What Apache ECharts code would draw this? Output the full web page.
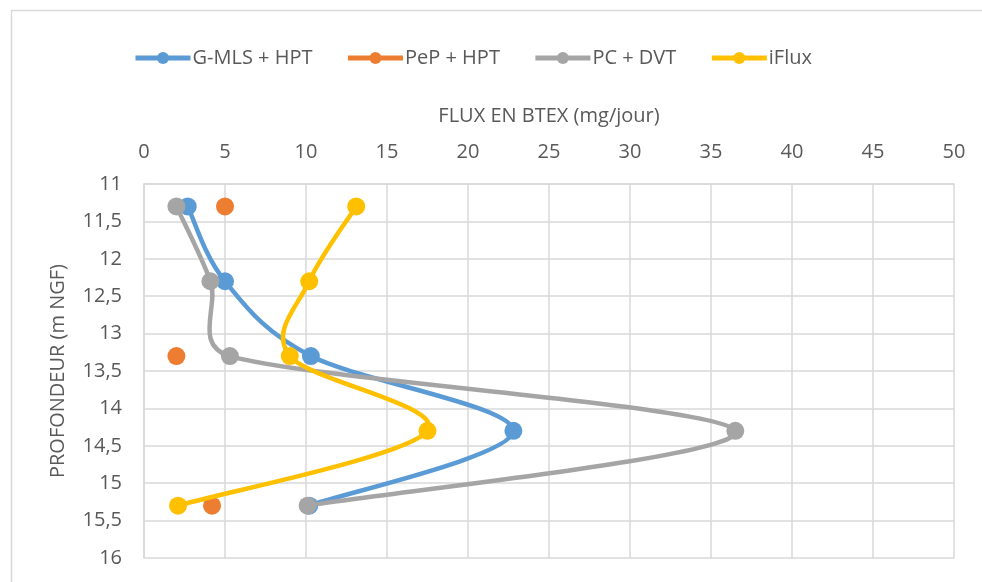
<!DOCTYPE html>
<html>
<head>
<meta charset="utf-8">
<script src="https://cdn.jsdelivr.net/npm/echarts@6/dist/echarts.min.js"></script>
<style>
html,body{margin:0;padding:0;background:#fff;}
#chart{width:982px;height:582px;}
</style>
</head>
<body>
<div id="chart"></div>
<script>
// Depths (m NGF)
const depths = [11.3, 12.3, 13.3, 14.3, 15.3];
// Flux values (mg/jour)
const gmlsHpt = [2.7, 5.0, 10.3, 22.8, 10.2];
const pepHpt = [5.0, null, 2.0, null, 4.2];
const pcDvt = [2.0, 4.1, 5.3, 36.5, 10.1];
const iflux = [13.1, 10.2, 9.0, 17.5, 2.1];
const seriesNames = ['G-MLS + HPT', 'PeP + HPT', 'PC + DVT', 'iFlux'];
const colors = ['#5B9BD5', '#ED7D31', '#A5A5A5', '#FFC000'];

const FONT = 'Open Sans';
const TXT = '#595959';
const LW = 4.5;

function pairs(vals) {
  return vals.map((v, i) => [v === null ? '-' : v, depths[i]]);
}
const allVals = [gmlsHpt, pepHpt, pcDvt, iflux];

// Spreadsheet-style smoothed path (Bezier with 1/6 tension, clamped), computed in pixel space
function dist(a, b) { return Math.hypot(b[0] - a[0], b[1] - a[1]); }
function smoothPath(pts) {
  if (pts.length < 2) return '';
  let d = 'M' + pts[0][0] + ' ' + pts[0][1];
  for (let i = 0; i < pts.length - 1; i++) {
    const p1 = pts[i], p2 = pts[i + 1];
    const p0 = i > 0 ? pts[i - 1] : p1;
    const p3 = i + 2 < pts.length ? pts[i + 2] : p2;
    const d12 = dist(p1, p2), d02 = dist(p0, p2), d13 = dist(p1, p3);
    let f1 = 1 / 6, f2 = 1 / 6;
    if (d02 / 6 >= d12 / 2 && d02 > 0) f1 = d12 / (2 * d02);
    if (d13 / 6 >= d12 / 2 && d13 > 0) f2 = d12 / (2 * d13);
    const c1 = [p1[0] + (p2[0] - p0[0]) * f1, p1[1] + (p2[1] - p0[1]) * f1];
    const c2 = [p2[0] - (p3[0] - p1[0]) * f2, p2[1] - (p3[1] - p1[1]) * f2];
    d += ' C' + c1[0] + ' ' + c1[1] + ' ' + c2[0] + ' ' + c2[1] + ' ' + p2[0] + ' ' + p2[1];
  }
  return d;
}

function curveSeries(i) {
  const vals = allVals[i];
  return {
    name: seriesNames[i] + ' (courbe)', type: 'custom', coordinateSystem: 'cartesian2d',
    z: 2 + i * 2, silent: true,
    data: pairs(vals).filter(p => p[0] !== '-'),
    encode: {x: 0, y: 1},
    renderItem: function (params, api) {
      if (params.dataIndex !== 0) return null;
      const runs = [];
      let cur = [];
      vals.forEach((v, k) => {
        if (v === null) { if (cur.length) runs.push(cur); cur = []; }
        else cur.push(api.coord([v, depths[k]]));
      });
      if (cur.length) runs.push(cur);
      const children = runs.filter(r => r.length > 1).map(r => ({
        type: 'path',
        shape: {pathData: smoothPath(r)},
        style: {fill: null, stroke: colors[i], lineWidth: LW, lineCap: 'round', lineJoin: 'round'}
      }));
      return {type: 'group', children: children};
    }
  };
}

const chart = echarts.init(document.getElementById('chart'), null, {renderer: 'canvas'});
chart.setOption({
  animation: false,
  backgroundColor: '#fff',
  color: colors,
  graphic: [{
    type: 'rect', left: 9, top: 8, silent: true, z: -10,
    shape: {width: 1100, height: 700},
    style: {fill: 'none', stroke: '#d9d9d9', lineWidth: 1.5}
  }],
  legend: {
    left: 133, top: 48, padding: 0,
    itemWidth: 55, itemHeight: 15, itemGap: 33,
    lineStyle: {width: 5, opacity: 1},
    textStyle: {fontFamily: FONT, fontSize: 20, color: TXT, padding: [0, 0, 0, -3]},
    data: seriesNames
  },
  grid: {left: 144, right: 28, top: 184, bottom: 24, containLabel: false},
  xAxis: {
    type: 'value', position: 'top', min: 0, max: 50, interval: 5,
    name: 'FLUX EN BTEX (mg/jour)', nameLocation: 'middle', nameGap: 58,
    nameTextStyle: {fontFamily: FONT, fontSize: 20, color: TXT},
    axisLabel: {fontFamily: FONT, fontSize: 20, color: TXT, margin: 22},
    axisLine: {show: true, lineStyle: {color: '#d9d9d9', width: 1.5}},
    axisTick: {show: false},
    splitLine: {show: true, lineStyle: {color: '#d9d9d9', width: 1.5}}
  },
  yAxis: {
    type: 'value', inverse: true, min: 11, max: 16, interval: 0.5,
    name: 'PROFONDEUR (m NGF)', nameLocation: 'middle', nameGap: 76, nameRotate: 90,
    nameTextStyle: {fontFamily: FONT, fontSize: 20, color: TXT},
    axisLabel: {fontFamily: FONT, fontSize: 20, color: TXT, margin: 22,
      formatter: v => String(v).replace('.', ',')},
    axisLine: {show: true, lineStyle: {color: '#d9d9d9', width: 1.5}},
    axisTick: {show: false},
    splitLine: {show: true, lineStyle: {color: '#d9d9d9', width: 1.5}}
  },
  series: seriesNames.map((n, i) => ({
    name: n, type: 'line', data: pairs(allVals[i]),
    z: 3 + i * 2,
    smooth: false, connectNulls: false,
    symbol: 'circle', symbolSize: 18, showAllSymbol: true,
    lineStyle: {width: LW, color: colors[i], opacity: 0},
    itemStyle: {color: colors[i]}
  })).concat([0, 1, 2, 3].map(curveSeries))
});
</script>
</body>
</html>
